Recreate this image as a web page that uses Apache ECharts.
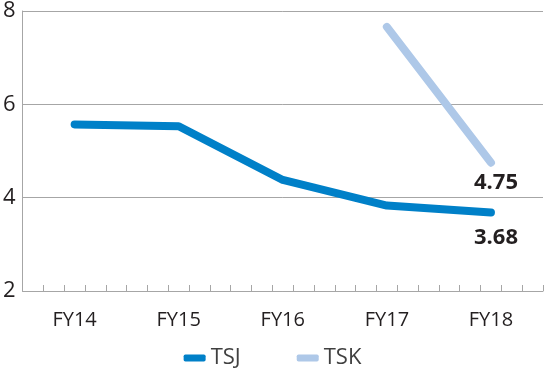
<!DOCTYPE html>
<html>
<head>
<meta charset="utf-8">
<script src="https://cdn.jsdelivr.net/npm/echarts@6/dist/echarts.min.js"></script>
<style>
  html, body { margin: 0; padding: 0; background: #fff; }
  #echarts { width: 545px; height: 375px; }
</style>
</head>
<body>
<div id="echarts"></div>
<script>
const years = ['FY14', 'FY15', 'FY16', 'FY17', 'FY18'];
const tsj = [5.57, 5.53, 4.38, 3.83, 3.68];
const tsk = [null, null, null, 7.66, 4.75];
const yTicks = [2, 4, 6, 8];

const font = '"Open Sans", "Noto Sans", sans-serif';
const dark = '#231f20';
const grey = '#a6a6a6';

let myChart = echarts.init(document.getElementById('echarts'));

// only the last point gets a label
function withLastLabel(arr, offsetY) {
  return arr.map((v, i) => {
    if (i !== arr.length - 1) return v;
    return {
      value: v,
      label: {
        show: true,
        position: 'bottom',
        distance: offsetY,
        offset: [5, 0],
        formatter: p => Number(p.value).toFixed(2),
        fontFamily: font,
        fontWeight: 'bold',
        fontSize: 22,
        color: dark,
      },
    };
  });
}

let option = {
  animation: false,
  textStyle: { fontFamily: font },
  legend: {
    bottom: 1,
    left: 'center',
    icon: 'roundRect',
    itemWidth: 22,
    itemHeight: 7,
    itemGap: 56,
    textStyle: { fontSize: 22, color: '#404040', fontFamily: font },
    data: ['TSJ', 'TSK'],
  },
  grid: {
    top: 9,
    left: 21,
    right: 2,
    bottom: 84,
  },
  xAxis: [
    {
      type: 'category',
      data: years,
      axisTick: { show: false },
      axisLine: { lineStyle: { color: grey, width: 1 } },
      axisLabel: { fontSize: 20, color: dark, margin: 19, fontFamily: font },
    },
    {
      // minor ticks along the bottom
      type: 'value',
      position: 'bottom',
      min: 0,
      max: 25,
      interval: 1,
      axisLine: { show: false },
      axisLabel: { show: false },
      splitLine: { show: false },
      axisTick: { show: true, inside: true, length: 6, lineStyle: { color: grey } },
    },
  ],
  yAxis: {
    type: 'value',
    min: yTicks[0],
    max: yTicks[yTicks.length - 1],
    interval: 2,
    axisLine: { show: true, lineStyle: { color: grey } },
    axisTick: { show: false },
    splitLine: { lineStyle: { color: grey, width: 1 } },
    axisLabel: { fontSize: 22, color: dark, margin: 7, fontFamily: font },
  },
  series: [
    {
      name: 'TSJ',
      type: 'line',
      data: withLastLabel(tsj, 14),
      symbol: 'circle',
      symbolSize: 0,
      color: '#0080c8',
      lineStyle: { width: 8, cap: 'round', join: 'round' },
    },
    {
      name: 'TSK',
      type: 'line',
      data: withLastLabel(tsk, 9),
      symbol: 'circle',
      symbolSize: 0,
      color: '#aec8e8',
      lineStyle: { width: 8, cap: 'round', join: 'round' },
    },
  ],
};
myChart.setOption(option);
</script>
</body>
</html>
